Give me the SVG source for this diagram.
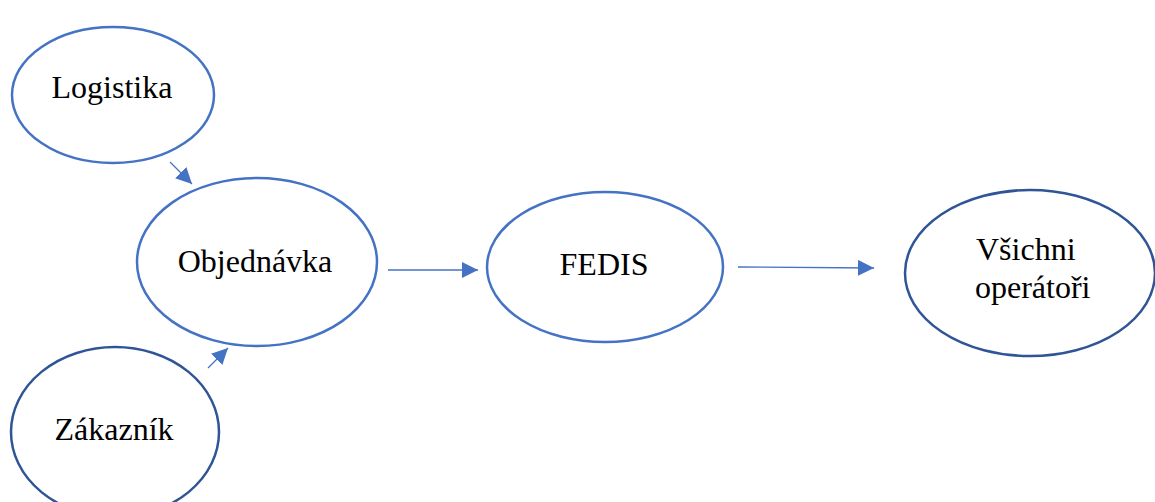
<svg xmlns="http://www.w3.org/2000/svg" width="1155" height="502" viewBox="0 0 1155 502">
<style>
.n{fill:#fff;stroke:#4472C4;stroke-width:2.5}
.d{stroke:#2F5597}
.t{font-family:'Liberation Serif','DejaVu Serif','Times New Roman',serif;font-size:32px;fill:#000}
.c{stroke:#4472C4;stroke-width:1.3;fill:none}
</style>
<defs>
<marker id="ah" markerUnits="userSpaceOnUse" markerWidth="18" markerHeight="16" refX="16" refY="8" orient="auto">
<path d="M0,0 L16,8 L0,16 Z" fill="#4472C4"/>
</marker>
</defs>
<rect width="1155" height="502" fill="#fff"/>
<g id="logistika">
<ellipse class="n" cx="113" cy="95" rx="101" ry="68"/>
<text class="t" x="112" y="98" text-anchor="middle">Logistika</text>
</g>
<g id="objednavka">
<ellipse class="n" cx="257" cy="262" rx="120" ry="84"/>
<text class="t" x="255" y="272" text-anchor="middle">Objednávka</text>
</g>
<g id="zakaznik">
<ellipse class="n d" cx="115" cy="432" rx="104" ry="85"/>
<text class="t" x="114" y="440" text-anchor="middle">Zákazník</text>
</g>
<g id="fedis">
<ellipse class="n" cx="605" cy="267" rx="118" ry="75"/>
<text class="t" x="604" y="275" text-anchor="middle">FEDIS</text>
</g>
<g id="vsichni">
<ellipse class="n d" cx="1030" cy="273" rx="125" ry="83"/>
<text class="t" x="976" y="260">Všichni</text>
<text class="t" x="975" y="298">operátoři</text>
</g>
<g id="connectors">
<line class="c" x1="170" y1="162" x2="192" y2="184" marker-end="url(#ah)"/>
<line class="c" x1="208" y1="368" x2="228" y2="348" marker-end="url(#ah)"/>
<line class="c" x1="388" y1="270" x2="478" y2="270" marker-end="url(#ah)"/>
<line class="c" x1="738" y1="267" x2="874" y2="268" marker-end="url(#ah)"/>
</g>
</svg>
